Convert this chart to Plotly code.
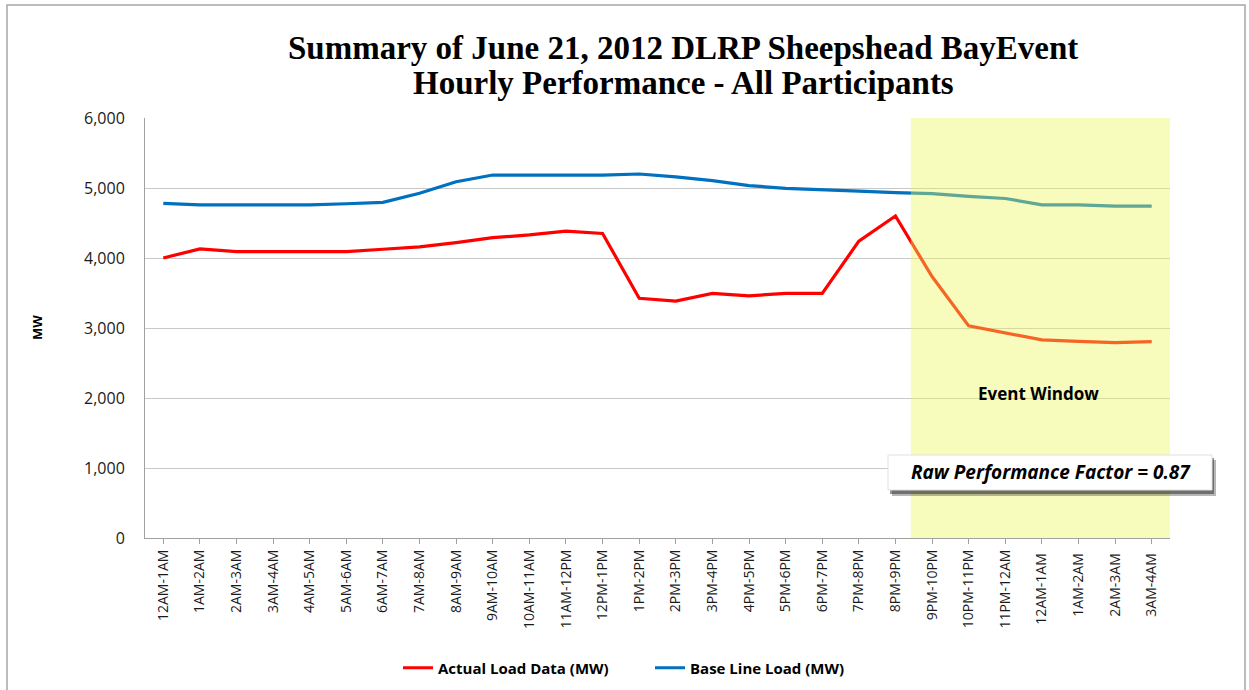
import plotly.graph_objects as go

categories = ["12AM-1AM", "1AM-2AM", "2AM-3AM", "3AM-4AM", "4AM-5AM", "5AM-6AM", "6AM-7AM",
              "7AM-8AM", "8AM-9AM", "9AM-10AM", "10AM-11AM", "11AM-12PM", "12PM-1PM", "1PM-2PM",
              "2PM-3PM", "3PM-4PM", "4PM-5PM", "5PM-6PM", "6PM-7PM", "7PM-8PM", "8PM-9PM",
              "9PM-10PM", "10PM-11PM", "11PM-12AM", "12AM-1AM ", "1AM-2AM ", "2AM-3AM ", "3AM-4AM "]

actual_load = [4000, 4130, 4090, 4090, 4090, 4090, 4125, 4160, 4220, 4290, 4330, 4385, 4350, 3425,
               3385, 3495, 3460, 3495, 3495, 4240, 4600, 3735, 3030, 2935, 2830, 2810, 2790, 2805]

base_line = [4780, 4760, 4760, 4760, 4760, 4775, 4795, 4925, 5090, 5185, 5185, 5185, 5185, 5200,
             5160, 5105, 5035, 4995, 4970, 4955, 4935, 4920, 4880, 4850, 4760, 4760, 4740, 4740]

y_ticks = [0, 1000, 2000, 3000, 4000, 5000, 6000]
event_start, event_end = 20.42, 27.5

TEXT = "#1a1a1a"
FONT = "Open Sans"

# plot-area geometry in pixels (for paper-referenced decorations)
L, R, T, B = 145, 1170, 118, 538
W, H = R - L, B - T


def px(x):
    return (x - L) / W


def py(y):
    return (B - y) / H


fig = go.Figure()
fig.add_trace(go.Scatter(x=categories, y=actual_load, mode="lines", name="<b>Actual Load Data (MW)</b>",
                         line=dict(color="#ff0000", width=3.2)))
fig.add_trace(go.Scatter(x=categories, y=base_line, mode="lines", name="<b>Base Line Load (MW)</b>",
                         line=dict(color="#0070c0", width=3.2)))

shapes = [
    dict(type="rect", xref="x", yref="y", x0=event_start, x1=event_end, y0=0, y1=6000,
         fillcolor="rgba(235,245,90,0.41)", line=dict(width=0), layer="above"),
    dict(type="rect", xref="paper", yref="paper", x0=px(7), x1=px(1245), y0=py(720), y1=py(5),
         line=dict(color="#a6a6a6", width=1.5), fillcolor="rgba(0,0,0,0)", layer="below"),
    dict(type="rect", xref="paper", yref="paper", x0=px(892), x1=px(1216), y0=py(496), y1=py(460),
         fillcolor="rgba(50,50,50,0.35)", line=dict(width=0), layer="above"),
    dict(type="rect", xref="paper", yref="paper", x0=px(890), x1=px(1214), y0=py(494), y1=py(458),
         fillcolor="rgba(40,40,40,0.5)", line=dict(width=0), layer="above"),
    dict(type="rect", xref="paper", yref="paper", x0=px(888), x1=px(1212), y0=py(490), y1=py(455),
         fillcolor="white", line=dict(color="#e0e0e0", width=1), layer="above"),
]

annotations = [
    dict(text="<b>Summary of June 21, 2012 DLRP Sheepshead BayEvent</b>", xref="paper", yref="paper",
         x=px(683), y=py(48), xanchor="center", yanchor="middle", showarrow=False,
         font=dict(family="Liberation Serif", size=33, color="#000000")),
    dict(text="<b>Hourly Performance - All Participants</b>", xref="paper", yref="paper",
         x=px(683), y=py(83), xanchor="center", yanchor="middle", showarrow=False,
         font=dict(family="Liberation Serif", size=33, color="#000000")),
    dict(text="<b><i>Raw Performance Factor = 0.87</i></b>", xref="paper", yref="paper",
         x=px(1051), y=py(472), xanchor="center", yanchor="middle", showarrow=False,
         font=dict(family=FONT, size=19, color="#000000")),
    dict(text="<b>Event Window</b>", xref="paper", yref="paper",
         x=px(1038), y=py(393), xanchor="center", yanchor="middle", showarrow=False,
         font=dict(family=FONT, size=17, color="#000000")),
    dict(text="<b>MW</b>", xref="paper", yref="paper", x=px(37), y=py(328),
         xanchor="center", yanchor="middle",
         showarrow=False, textangle=-90, font=dict(family=FONT, size=13, color="#000000")),
]

fig.update_layout(
    width=1249, height=690,
    margin=dict(l=L, r=1249 - R, t=T, b=690 - B, autoexpand=False),
    paper_bgcolor="white", plot_bgcolor="white",
    showlegend=True,
    legend=dict(orientation="h", x=px(398), xanchor="left", y=py(668),
                yanchor="middle", font=dict(family=FONT, size=15, color="#000000"),
                entrywidth=207, entrywidthmode="pixels", itemwidth=30,
                bgcolor="rgba(0,0,0,0)"),
    shapes=shapes,
    annotations=annotations,
    xaxis=dict(type="category", range=[-0.5, 27.5], showgrid=False, showline=True,
               linecolor="#a0a0a0", linewidth=1, ticks="outside", ticklen=5, tickcolor="#a0a0a0",
               tickangle=-90, automargin=False,
               tickfont=dict(family=FONT, size=14, color=TEXT), fixedrange=True),
    yaxis=dict(range=[0, 6000], tickvals=y_ticks, tickformat=",", showgrid=True,
               gridcolor="#c8c8c8", gridwidth=1, showline=True, linecolor="#a0a0a0",
               zeroline=False, ticks="", ticklabelstandoff=16, automargin=False,
               tickfont=dict(family=FONT, size=16, color=TEXT)),
)

fig.write_html("out.html")
